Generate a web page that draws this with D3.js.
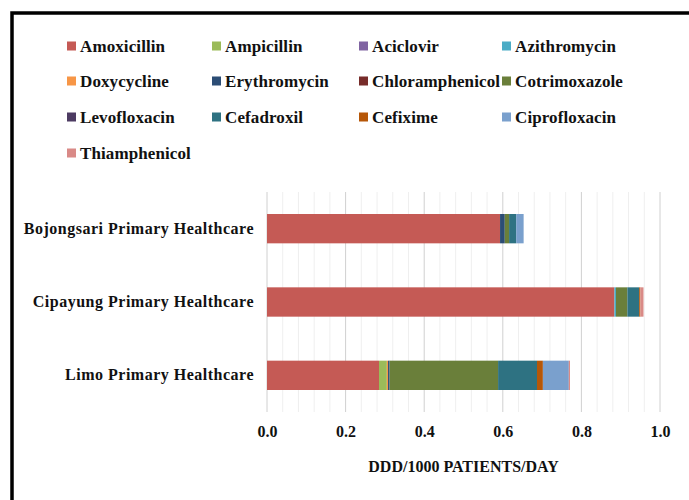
<!DOCTYPE html>
<html>
<head>
<meta charset="utf-8">
<script src="https://cdn.jsdelivr.net/npm/d3@7"></script>
<style>
  body { margin: 0; background: #fff; }
  text { font-family: "Liberation Serif", "Times New Roman", serif; font-weight: bold; fill: #111; }
</style>
</head>
<body>
<div class="canvas"></div>
<script>
// health centres (top to bottom)
const centres = ["Bojongsari Primary Healthcare", "Cipayung Primary Healthcare", "Limo Primary Healthcare"];

const drugs = ["Amoxicillin", "Ampicillin", "Aciclovir", "Azithromycin", "Doxycycline", "Erythromycin",
  "Chloramphenicol", "Cotrimoxazole", "Levofloxacin", "Cefadroxil", "Cefixime", "Ciprofloxacin", "Thiamphenicol"];

const colors = ["#c55a55", "#9bbb59", "#8064a2", "#4bacc6", "#f79646", "#2c4d75",
  "#772c2a", "#6a7f3a", "#4d3b62", "#2e7282", "#b65708", "#7aa0cd", "#d98a87"];

// DDD/1000 patients/day, one value per centre: Bojongsari, Cipayung, Limo
const amoxicillin     = [0.593, 0.884, 0.285];
const ampicillin      = [0.000, 0.000, 0.020];
const aciclovir       = [0.000, 0.000, 0.000];
const azithromycin    = [0.000, 0.004, 0.000];
const doxycycline     = [0.000, 0.000, 0.003];
const erythromycin    = [0.012, 0.000, 0.004];
const chloramphenicol = [0.000, 0.000, 0.000];
const cotrimoxazole   = [0.011, 0.029, 0.276];
const levofloxacin    = [0.000, 0.000, 0.000];
const cefadroxil      = [0.018, 0.030, 0.099];
const cefixime        = [0.000, 0.003, 0.015];
const ciprofloxacin   = [0.019, 0.000, 0.066];
const thiamphenicol   = [0.000, 0.008, 0.003];

const xTicks = [0, 0.2, 0.4, 0.6, 0.8, 1.0];
const xLabel = "DDD/1000 PATIENTS/DAY";

const seriesValues = [amoxicillin, ampicillin, aciclovir, azithromycin, doxycycline, erythromycin,
  chloramphenicol, cotrimoxazole, levofloxacin, cefadroxil, cefixime, ciprofloxacin, thiamphenicol];

const rows = centres.map((c, i) => {
  const r = {centre: c};
  drugs.forEach((d, j) => r[d] = seriesValues[j][i]);
  return r;
});

const width = 689, height = 500;
const svg = d3.select(".canvas")
  .append("svg")
    .attr("width", width)
    .attr("height", height);

svg.append("rect")
  .attr("x", 12).attr("y", 13)
  .attr("width", 700).attr("height", 520)
  .attr("fill", "none")
  .attr("stroke", "#000")
  .attr("stroke-width", 3.5);

const margin = {top: 192, left: 267, right: 29, bottom: 88};
const graphWidth = width - margin.left - margin.right;
const graphHeight = height - margin.top - margin.bottom;

const graph = svg.append("g")
  .attr("transform", `translate(${margin.left},${margin.top})`);

const x = d3.scaleLinear().domain([0, 1]).range([0, graphWidth]);
const y = d3.scaleBand().domain(centres).range([0, graphHeight]).paddingInner(0.6).paddingOuter(0.3);

// gridlines: minor every 0.04, major every 0.2
const minor = d3.range(0, 26).map(i => i * 0.04);
graph.append("g").selectAll("line")
  .data(minor)
  .enter().append("line")
    .attr("x1", d => x(d)).attr("x2", d => x(d))
    .attr("y1", 0).attr("y2", graphHeight)
    .attr("stroke", d => Math.abs(d * 5 - Math.round(d * 5)) < 1e-6 ? "#d0d0d0" : "#efefef")
    .attr("stroke-width", 1);

const stack = d3.stack().keys(drugs);
const layers = stack(rows);

graph.append("g").selectAll("g")
  .data(layers)
  .enter().append("g")
    .attr("fill", (d, i) => colors[i])
  .selectAll("rect")
  .data(d => d)
  .enter().append("rect")
    .attr("x", d => x(d[0]))
    .attr("y", d => y(d.data.centre))
    .attr("width", d => x(d[1]) - x(d[0]))
    .attr("height", y.bandwidth());

// x axis
const xAxis = d3.axisBottom(x).tickValues(xTicks).tickFormat(d3.format(".1f")).tickSize(0).tickPadding(14);
const xAxisGroup = graph.append("g")
  .attr("transform", `translate(0,${graphHeight})`)
  .call(xAxis);
xAxisGroup.select(".domain").remove();
xAxisGroup.selectAll("text")
  .attr("font-family", "Liberation Serif")
  .attr("font-weight", "bold")
  .attr("font-size", 16)
  .attr("fill", "#111");

// y axis
const yAxis = d3.axisLeft(y).tickSize(0).tickPadding(13);
const yAxisGroup = graph.append("g").call(yAxis);
yAxisGroup.select(".domain").remove();
yAxisGroup.selectAll("text")
  .attr("font-family", "Liberation Serif")
  .attr("font-weight", "bold")
  .attr("font-size", 16)
  .attr("letter-spacing", 0.5)
  .attr("fill", "#111");

svg.append("text")
  .attr("x", margin.left + graphWidth / 2)
  .attr("y", 472)
  .attr("text-anchor", "middle")
  .attr("font-family", "Liberation Serif")
  .attr("font-size", 16)
  .text(xLabel);

// legend, 4 columns
const colX = [67, 212, 359, 502];
const rowY = [46, 81, 117, 153];
const legend = svg.append("g").selectAll("g")
  .data(drugs)
  .enter().append("g")
    .attr("transform", (d, i) => `translate(${colX[i % 4]},${rowY[Math.floor(i / 4)]})`);
legend.append("rect")
  .attr("x", 0).attr("y", -4.5)
  .attr("width", 9).attr("height", 9)
  .attr("fill", (d, i) => colors[i]);
legend.append("text")
  .attr("x", 13).attr("y", 0)
  .attr("dy", "0.35em")
  .attr("font-family", "Liberation Serif")
  .attr("font-weight", "bold")
  .attr("font-size", 17)
  .attr("letter-spacing", 0.1)
  .text(d => d);
</script>
</body>
</html>
